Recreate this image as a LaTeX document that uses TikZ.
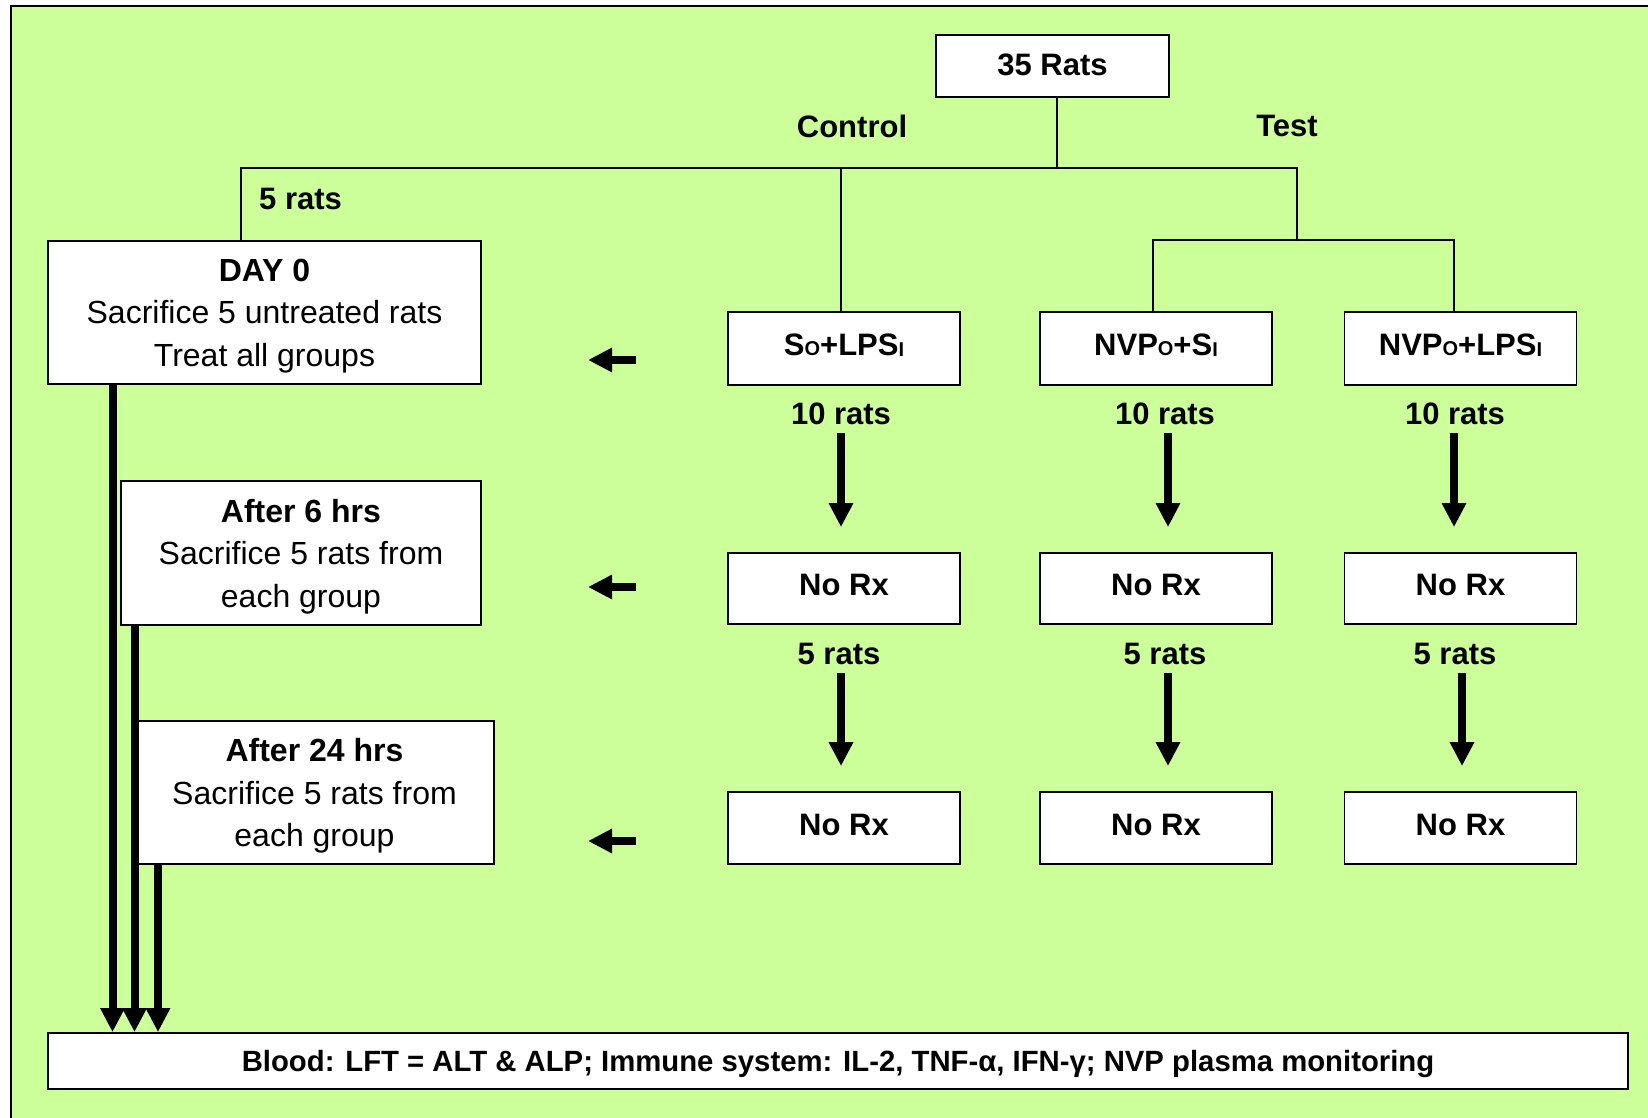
\documentclass[tikz,border=0pt]{standalone}
\usepackage{fontspec}
\setmainfont{Liberation Sans}
\usetikzlibrary{arrows.meta}
\definecolor{bg}{RGB}{204,255,153}
\newcommand\lowsub[2][0pt]{\raisebox{#1}{\fontsize{20}{20}\selectfont #2}}
\begin{document}
\begin{tikzpicture}[x=1pt,y=-1pt,
  tline/.style={line width=1.8pt},
  box/.style={draw, line width=1.8pt, fill=white, inner sep=0pt},
  bfont/.style={font=\fontsize{31}{38}\selectfont\bfseries, inner sep=0pt},
  gbox/.style={box, bfont, minimum width=232, text depth=7pt},
  rfont/.style={font=\fontsize{32}{42.5}\selectfont, align=center, text depth=0pt},
  fat/.style={line width=8pt, -{Triangle[length=24pt,width=23pt]}},
]
\useasboundingbox (0,0) rectangle (1648,1118);
\fill[bg] (11,6) rectangle (1670,1130);
\draw[line width=2pt] (11,1130) -- (11,6) -- (1670,6);

% top
\node[box,bfont,minimum width=233,minimum height=62,text depth=2pt] (rats) at (1052.5,66) {35 Rats};
\node[bfont] (ctl) at (852,126) {Control};
\node[bfont] (tst) at (1287,126) {Test};
\node[bfont,anchor=west] (five) at (259,199) {5 rats};

% group boxes
\node[gbox,minimum height=73] (g1) at (844,348.5) {S\lowsub{O}+LPS\lowsub[-1pt]{I}};
\node[gbox,minimum height=73] (g2) at (1156,348.5) {NVP\lowsub{O}+S\lowsub[-1pt]{I}};
\node[gbox,minimum height=73] (g3) at (1460.5,348.5) {NVP\lowsub{O}+LPS\lowsub[-1pt]{I}};

\node[gbox,minimum height=71] (n1) at (844,588.5) {No Rx};
\node[gbox,minimum height=71] (n2) at (1156,588.5) {No Rx};
\node[gbox,minimum height=71] (n3) at (1460.5,588.5) {No Rx};

\node[gbox,minimum height=72] (m1) at (844,828) {No Rx};
\node[gbox,minimum height=72] (m2) at (1156,828) {No Rx};
\node[gbox,minimum height=72] (m3) at (1460.5,828) {No Rx};

\node[bfont] (t1) at (841,414) {10 rats};
\node[bfont] (t2) at (1165,414) {10 rats};
\node[bfont] (t3) at (1455,414) {10 rats};
\node[bfont] (f1) at (839,654) {5 rats};
\node[bfont] (f2) at (1165,654) {5 rats};
\node[bfont] (f3) at (1455,654) {5 rats};

% left boxes
\node[box,rfont,minimum width=433,minimum height=143] (day0) at (264.5,312.5)
  {\textbf{DAY 0}\\Sacrifice 5 untreated rats\\Treat all groups};
\node[box,rfont,minimum width=360,minimum height=144] (aft6) at (301,553)
  {\textbf{After 6 hrs}\\Sacrifice 5 rats from\\each group};
\node[box,rfont,minimum width=359,minimum height=143] (aft24) at (314.5,792.5)
  {\textbf{After 24 hrs}\\Sacrifice 5 rats from\\each group};

% bottom
\node[box,font=\fontsize{29.3}{34}\selectfont\bfseries,minimum width=1580,minimum height=56,text depth=0pt] (blood) at (838,1061)
  {Blood: LFT = ALT \& ALP; Immune system: IL-2, TNF-α, IFN-γ; NVP plasma monitoring};

% tree connectors
\coordinate (jL) at (241,168);
\coordinate (jR) at (1297,168);
\coordinate (tb) at (1297,240);
\draw[tline] (rats.south -| 1057,0) -- (jL -| 1057,0);
\draw[tline] (jL |- day0.north) -- (jL) -- (jR) -- (tb);
\draw[tline] (jL -| 841,0) -- (g1.north -| 841,0);
\draw[tline] (g2.north -| 1153,0) -- (tb -| 1153,0) -- (tb -| 1454,0) -- (g3.north -| 1454,0);

% vertical arrows
\foreach \t/\n/\x in {t1/n1/841,t2/n2/1168,t3/n3/1454,f1/m1/841,f2/m2/1168,f3/m3/1462}{
  \draw[fat, shorten <=8pt, shorten >=25pt] (\t.south -| \x,0) -- (\n.north -| \x,0);
}

% left arrows
\coordinate (a1s) at (636,360); \coordinate (a1e) at (588,360);
\coordinate (a2s) at (636,587); \coordinate (a2e) at (588,587);
\coordinate (a3s) at (636,841); \coordinate (a3e) at (588,841);
\draw[fat] (a1s) -- (a1e);
\draw[fat] (a2s) -- (a2e);
\draw[fat] (a3s) -- (a3e);

% thick lines to bottom box
\draw[fat] (day0.south -| 112.5,0) -- (blood.north -| 112.5,0);
\draw[fat] (aft6.south -| 134.5,0) -- (blood.north -| 134.5,0);
\draw[fat] (aft24.south -| 158,0) -- (blood.north -| 158,0);
\end{tikzpicture}
\end{document}
